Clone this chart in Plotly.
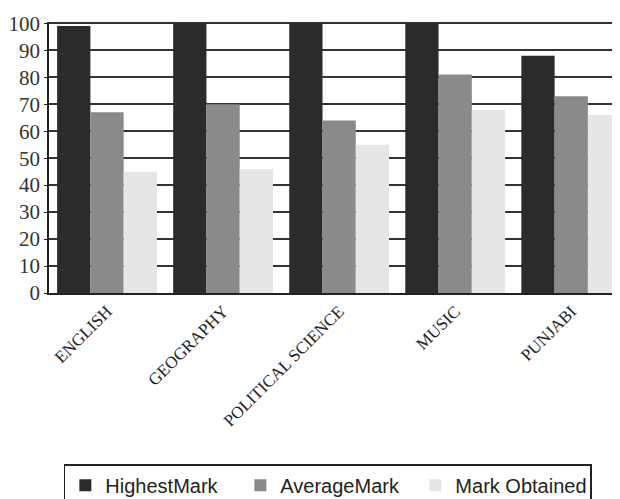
import plotly.graph_objects as go

subjects = ["ENGLISH", "GEOGRAPHY", "POLITICAL SCIENCE", "MUSIC", "PUNJABI"]
highest_mark = [99, 100, 100, 100, 88]
average_mark = [67, 70, 64, 81, 73]
mark_obtained = [45, 46, 55, 68, 66]
y_ticks = [0, 10, 20, 30, 40, 50, 60, 70, 80, 90, 100]

fig = go.Figure()
fig.add_trace(go.Bar(x=subjects, y=highest_mark, name="HighestMark",
                     marker=dict(color="#2b2b2b", line=dict(width=0))))
fig.add_trace(go.Bar(x=subjects, y=average_mark, name="AverageMark",
                     marker=dict(color="#8a8a8a", line=dict(width=0))))
fig.add_trace(go.Bar(x=subjects, y=mark_obtained, name="Mark Obtained",
                     marker=dict(color="#e6e6e6", line=dict(width=0))))

fig.update_layout(
    width=620, height=499,
    margin=dict(l=41, r=8, t=14, b=214, autoexpand=False),
    paper_bgcolor="white", plot_bgcolor="white",
    barmode="group", bargap=0.14, bargroupgap=0,
    showlegend=True,
    legend=dict(orientation="h", x=0.026, xanchor="left", y=-0.632, yanchor="top",
                bordercolor="#222", borderwidth=1.5,
                font=dict(family="Liberation Sans, Arial", size=20, color="#222"),
                entrywidth=130, traceorder="normal", itemwidth=30),
    xaxis=dict(range=[-0.5, 4.42], tickangle=-45, showgrid=False, automargin=False,
               tickfont=dict(family="Liberation Serif, Times New Roman", size=17, color="#222"),
               showline=True, linecolor="#222", linewidth=1.5, ticks=""),
    yaxis=dict(range=[0, 100.5], tickvals=y_ticks, showgrid=True, gridcolor="#333", gridwidth=1.5,
               automargin=False,
               tickfont=dict(family="Liberation Serif, Times New Roman", size=21, color="#333"),
               showline=True, linecolor="#222", linewidth=1.5, ticks="outside", ticklen=3,
               tickcolor="#222", zeroline=False),
    font=dict(family="Liberation Serif"),
)

fig.write_html("out.html")
